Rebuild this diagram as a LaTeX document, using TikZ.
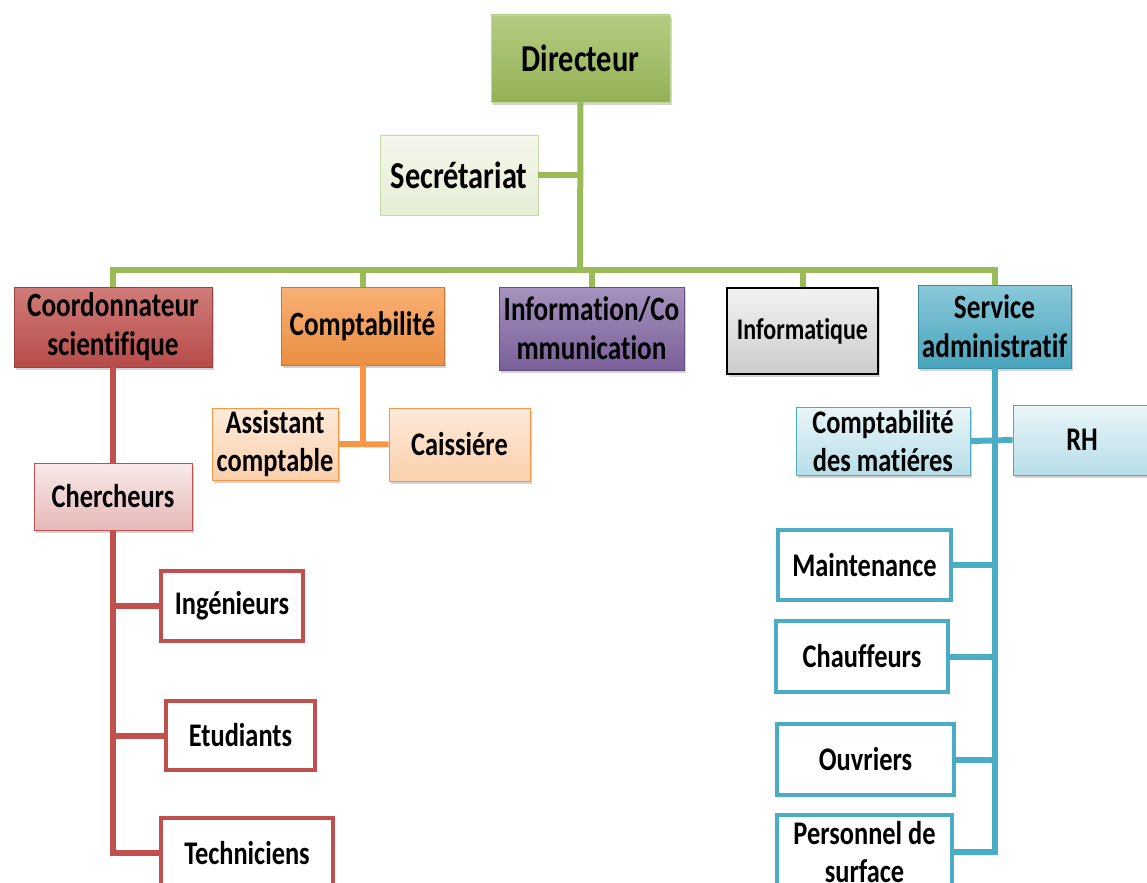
\documentclass[tikz,border=0pt]{standalone}
\usepackage{fontspec}
\setmainfont{Carlito}[FakeStretch=0.8, Ligatures=NoCommon]
\usetikzlibrary{shadows}

\tikzset{
    caja/.style={draw, rectangle, align=center, inner sep=1pt,
        font=\bfseries\fontsize{16.5}{19}\selectfont},
    sombra/.style={drop shadow={opacity=0.35, shadow xshift=1.2pt, shadow yshift=-1.5pt}},
    nivel/.style={caja, sombra, font=\bfseries\fontsize{17}{19.5}\selectfont},
    linea/.style={line width=3pt}
}

\begin{document}
\begin{tikzpicture}[x=0.5pt, y=-0.5pt]
        %colores
        \definecolor{verde}{HTML}{9BBB59}
        \definecolor{rojo}{HTML}{C0504D}
        \definecolor{naranja}{HTML}{F79646}
        \definecolor{morado}{HTML}{8064A2}
        \definecolor{azul}{HTML}{4BACC6}

        \useasboundingbox (0,0) rectangle (1147,883);

        %direccion
        \node[caja, sombra, minimum width=89.5pt, minimum height=43.5pt,
            top color=verde!75!white, bottom color=verde!95!black, draw=verde!60!white,
            font=\bfseries\fontsize{19}{22}\selectfont] (dir) at (580.5,58.5) {Directeur};
        \node[caja, minimum width=79pt, minimum height=40pt,
            top color=verde!12!white, bottom color=verde!25!white, draw=verde!55!white,
            font=\bfseries\fontsize{19}{22}\selectfont] (secr) at (459,175) {Secrétariat};

        %services
        \node[nivel, minimum width=99pt, minimum height=40pt,
            top color=rojo!75!white, bottom color=rojo!95!black, draw=rojo!80!black] (coord) at (113,327) {Coordonnateur\\scientifique};
        \node[nivel, minimum width=81.5pt, minimum height=39pt,
            top color=naranja!75!white, bottom color=naranja!95!black, draw=naranja!80!black] (compta) at (362.5,326) {Comptabilité};
        \node[nivel, minimum width=92.5pt, minimum height=41.5pt,
            top color=morado!70!white, bottom color=morado!95!black, draw=morado!80!black] (infocom) at (591.5,328.5) {Information/Co\\mmunication};
        \node[caja, sombra, minimum width=75.5pt, minimum height=43pt, line width=1pt,
            top color=white!95!black, bottom color=white!80!black, draw=black,
            font=\bfseries\fontsize{15}{18}\selectfont] (info) at (802.5,331) {Informatique};
        \node[nivel, minimum width=76.5pt, minimum height=41.5pt,
            top color=azul!65!white, bottom color=azul!95!black, draw=azul!80!black] (serv) at (994.5,326.5) {Service\\administratif};

        %coordonnateur
        \node[caja, sombra, minimum width=79pt, minimum height=33.5pt,
            top color=rojo!12!white, bottom color=rojo!40!white, draw=rojo] (cherch) at (113,496.5) {Chercheurs};
        \node[caja, minimum width=71pt, minimum height=35pt, line width=2pt, draw=rojo, fill=white] (ing) at (232,606) {Ingénieurs};
        \node[caja, minimum width=74.5pt, minimum height=34.5pt, line width=2pt, draw=rojo, fill=white] (etud) at (240.5,735.5) {Etudiants};
        \node[caja, minimum width=86pt, minimum height=35pt, line width=2pt, draw=rojo, fill=white] (tech) at (247,853) {Techniciens};

        %comptabilite
        \node[caja, sombra, minimum width=63pt, minimum height=36pt,
            top color=naranja!20!white, bottom color=naranja!45!white, draw=naranja] (assist) at (275,444) {Assistant\\comptable};
        \node[caja, sombra, minimum width=70.5pt, minimum height=36.5pt,
            top color=naranja!20!white, bottom color=naranja!45!white, draw=naranja] (caiss) at (459.5,444.5) {Caissiére};

        %service administratif
        \node[caja, sombra, minimum width=87pt, minimum height=34pt,
            top color=azul!12!white, bottom color=azul!40!white, draw=azul] (cmat) at (883,441) {Comptabilité\\des matiéres};
        \node[caja, sombra, minimum width=69pt, minimum height=35pt,
            top color=azul!12!white, bottom color=azul!40!white, draw=azul] (rh) at (1082,440) {RH};
        \node[caja, minimum width=86.5pt, minimum height=35pt, line width=2pt, draw=azul, fill=white] (maint) at (864.5,565) {Maintenance};
        \node[caja, minimum width=86pt, minimum height=35.5pt, line width=2pt, draw=azul, fill=white] (chauf) at (862,656.5) {Chauffeurs};
        \node[caja, minimum width=88.5pt, minimum height=35.5pt, line width=2pt, draw=azul, fill=white] (ouvr) at (865.5,759.5) {Ouvriers};
        \node[caja, minimum width=87.5pt, minimum height=37pt, line width=2pt, draw=azul, fill=white] (pers) at (864.5,852) {Personnel de\\surface};

        %lignes
        \coordinate (bus) at (580,270);
        \begin{scope}[on background layer/.try]
            \draw[linea, verde] (dir.south) -- (bus);
            \draw[linea, verde] (secr.east) -- (secr.east -| bus);
            \draw[linea, verde] (coord.north) |- (bus) -| (serv.north);
            \foreach \n in {compta, infocom, info}
            \draw[linea, verde] (\n.north) -- (\n.north |- bus);

            \draw[linea, rojo] (coord.south) -- (cherch.north);
            \draw[linea, rojo] (cherch.south) |- (tech.west);
            \foreach \n in {ing, etud}
            \draw[linea, rojo] (\n.west) -- (\n.west -| cherch.south);

            \draw[linea, naranja] (compta.south) -- (compta.south |- assist.east);
            \draw[linea, naranja] (assist.east) -- (caiss.west);

            \draw[linea, azul] (serv.south) |- (pers.east);
            \draw[linea, azul] (cmat.east) -- (rh.west);
            \foreach \n in {maint, chauf, ouvr}
            \draw[linea, azul] (\n.east) -- (\n.east -| serv.south);
        \end{scope}
    \end{tikzpicture}
\end{document}
